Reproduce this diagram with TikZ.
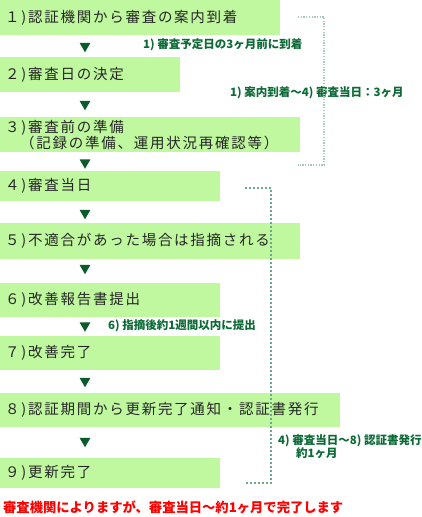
\documentclass[tikz,border=0pt]{standalone}
\usepackage{fontspec}
\setmainfont{Noto Sans CJK JP}
\newfontfamily\cjk{Noto Sans CJK JP}
\usetikzlibrary{shapes.geometric}
\definecolor{boxfill}{HTML}{C0F8A0}
\definecolor{boxtext}{HTML}{262626}
\definecolor{notegreen}{HTML}{0B6A35}
\definecolor{arrowgreen}{HTML}{0A5A2A}
\definecolor{dotlight}{HTML}{A8C8B8}
\definecolor{dotdark}{HTML}{6AAA8A}
\tikzset{
  box/.style={fill=boxfill, anchor=north west, inner xsep=5pt, inner ysep=0pt, align=left,
    text=boxtext, font=\cjk\addfontfeature{LetterSpace=12}\fontsize{14.5}{16}\selectfont},
  tri/.style={regular polygon, regular polygon sides=3, shape border rotate=180, fill=arrowgreen,
    minimum size=12.5pt, inner sep=0pt},
  note/.style={text=notegreen, inner sep=0pt, align=left,
    font=\cjk\bfseries\fontsize{11.5}{12}\selectfont},
  dotA/.style={dotlight, line width=1.3pt, dash pattern=on 1.3pt off 1.4pt},
  dotB/.style={dotdark, line width=2pt, dash pattern=on 2pt off 2pt},
}
\begin{document}
\begin{tikzpicture}[x=1pt,y=-1pt]
\useasboundingbox (0,0) rectangle (422,517);
% boxes
\node[box, text width=270pt, minimum height=35pt] (b1) at (0,0) {１)認証機関から審査の案内到着};
\node[box, text width=170pt, minimum height=35pt] (b2) at (0,57) {２)審査日の決定};
\node[box, text width=290pt, minimum height=35pt] (b3) at (0,117) {３)審査前の準備\\\hspace*{15pt}（記録の準備、運用状況再確認等）};
\node[box, text width=210pt, minimum height=30pt] (b4) at (0,171) {４)審査当日};
\node[box, text width=290pt, minimum height=36pt] (b5) at (0,223) {５)不適合があった場合は指摘される};
\node[box, text width=210pt, minimum height=34pt] (b6) at (0,283) {６)改善報告書提出};
\node[box, text width=210pt, minimum height=34pt] (b7) at (0,336) {７)改善完了};
\node[box, text width=330pt, minimum height=34pt] (b8) at (0,393) {８)認証期間から更新完了通知・認証書発行};
\node[box, text width=210pt, minimum height=30pt] (b9) at (0,458) {９)更新完了};
% arrows
\node[tri] (t1) at (85,46) {};
\node[tri] (t2) at (85,104) {};
\node[tri] (t3) at (85,162.5) {};
\node[tri] (t4) at (85,213) {};
\node[tri] (t5) at (85,268) {};
\node[tri] (t6) at (85,325.5) {};
\node[tri] (t7) at (85,381) {};
\node[tri] (t8) at (85,441) {};
% notes
\node[note, anchor=west] (n1) at (143,45) {1) 審査予定日の3ヶ月前に到着};
\node[note, anchor=west] (n2) at (230,93) {1) 案内到着〜4) 審査当日：3ヶ月};
\node[note, anchor=west] (n3) at (108,326) {6) 指摘後約1週間以内に提出};
\node[note, anchor=north west] (n4) at (278,434) {4) 審査当日〜8) 認証書発行\\\hspace*{18pt}約1ヶ月};
% brackets
\coordinate (a1) at (298,17);
\coordinate (a2) at (324,17);
\coordinate (a3) at (324,165);
\coordinate (a4) at (298,165);
\draw[dotA] (a1) -- (a2) -- (a3) -- (a4);
\coordinate (c1) at (245,188);
\coordinate (c2) at (271,188);
\coordinate (c3) at (271,483);
\coordinate (c4) at (245,483);
\draw[dotB] (c1) -- (c2) -- (c3) -- (c4);
% bottom red note
\node[anchor=west, inner sep=0pt, text=red, font=\cjk\bfseries\fontsize{13.3}{14}\selectfont] (red) at (3,507) {審査機関によりますが、審査当日〜約1ヶ月で完了します};
\end{tikzpicture}
\end{document}
